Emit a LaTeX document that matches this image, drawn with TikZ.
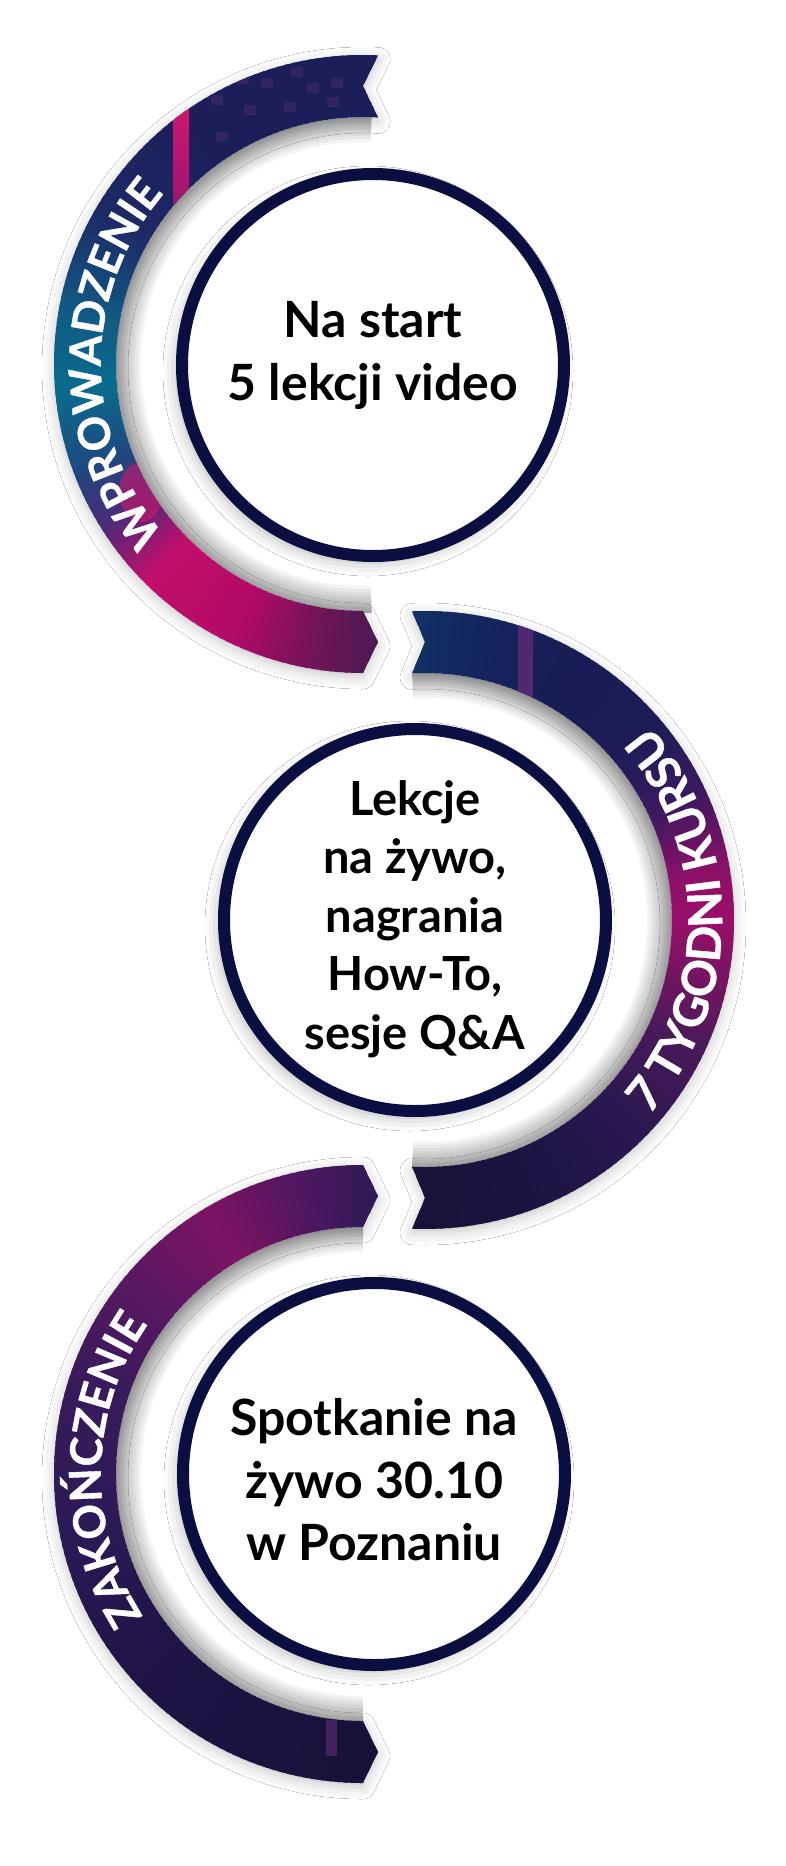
\documentclass[tikz,border=0pt]{standalone}
\usepackage{fontspec}
\setmainfont{Lato}
\newfontfamily\ribheavy{Lato}[BoldFeatures={FakeBold=0.9}]
\usetikzlibrary{decorations.text,shadows.blur}
\definecolor{circnavy}{HTML}{0A0E40}
% arc 1 colours
\definecolor{aA}{HTML}{1C1E5A}
\definecolor{aB}{HTML}{1D2A66}
\definecolor{aC}{HTML}{115A85}
\definecolor{aD}{HTML}{0A6B8D}
\definecolor{aE}{HTML}{1D4A80}
\definecolor{aF}{HTML}{4A2A78}
\definecolor{aG}{HTML}{C40E6C}
\definecolor{aH}{HTML}{B00A66}
\definecolor{aI}{HTML}{6A1658}
\definecolor{aJ}{HTML}{3A1A50}
% arc 2 colours
\definecolor{bA}{HTML}{0D3866}
\definecolor{bB}{HTML}{142660}
\definecolor{bC}{HTML}{191C55}
\definecolor{bD}{HTML}{1E1C58}
\definecolor{bE}{HTML}{3A1A5E}
\definecolor{bF}{HTML}{8A1068}
\definecolor{bG}{HTML}{9A0E68}
\definecolor{bH}{HTML}{7A1462}
\definecolor{bI}{HTML}{4A1A5A}
\definecolor{bJ}{HTML}{2A1850}
\definecolor{bK}{HTML}{1A1440}
\definecolor{bL}{HTML}{181238}
% arc 3 colours
\definecolor{cA}{HTML}{1E1A4E}
\definecolor{cB}{HTML}{4A1760}
\definecolor{cC}{HTML}{7C1462}
\definecolor{cD}{HTML}{5A1862}
\definecolor{cE}{HTML}{3A1A5A}
\definecolor{cF}{HTML}{2C1A58}
\definecolor{cG}{HTML}{221548}
\definecolor{cH}{HTML}{1A1340}
\definecolor{cI}{HTML}{161236}
\definecolor{pinkS}{HTML}{EC1A6E}
\definecolor{pinkT}{HTML}{9A1470}
\definecolor{stripeP}{HTML}{5C2A74}
\definecolor{blotch}{HTML}{4A2A6E}
\newcommand\ribfont{\ribheavy\fontsize{44}{44}\selectfont\bfseries}
\newcommand\ribfontB{\ribheavy\fontsize{47}{47}\selectfont\bfseries}
\newcommand\gradsegs[1]{%
  \foreach \sa/\sb/\ca/\cb in {#1}{%
    \pgfmathtruncatemacro\nn{max(1,int(abs(\sb-\sa)/1.5))}%
    \foreach \ii in {1,...,\nn}{%
      \pgfmathsetmacro\ta{\sa+(\sb-\sa)*(\ii-1)/\nn}%
      \pgfmathsetmacro\tc{\sa+(\sb-\sa)*(\ii+0.6)/\nn}%
      \pgfmathsetmacro\pc{100*(\ii-0.5)/\nn}%
      \fill[\cb!\pc!\ca] (0,0) -- (\ta:345) arc[start angle=\ta, end angle=\tc, radius=345] -- cycle;
    }%
  }%
}
% soft shadow on the inner side of a ribbon
\newcommand\innershadow[2]{%
  \foreach \k in {1,...,9}{%
    \fill[black, opacity=0.045] (#1:249) arc[start angle=#1,end angle=#2,radius=249] -- (#2:{249-3*\k}) arc[start angle=#2,end angle=#1,radius={249-3*\k}] -- cycle;
  }%
}
\tikzset{
  ribA/.style={insert path={(87.2:309) arc[start angle=87.2,end angle=270,radius=309] -- (15,-278) -- (0,-247) arc[start angle=270,end angle=86.5,radius=247] -- (0,278) -- cycle}},
  ribB/.style={insert path={(92.4:309) arc[start angle=92.4,end angle=-92.4,radius=309] -- (0,-278) -- (-93:247) arc[start angle=-93,end angle=93,radius=247] -- (0,278) -- cycle}},
  ribC/.style={insert path={(90:309) arc[start angle=90,end angle=270,radius=309] -- (15,-278) -- (0,-247) arc[start angle=270,end angle=90,radius=247] -- (15,278) -- cycle}},
  ribshadow/.style={blur shadow={shadow xshift=0pt, shadow yshift=-4pt, shadow blur radius=12pt, shadow opacity=22}},
  circ/.style={circle, draw=circnavy, line width=12pt, fill=white, minimum size=382pt, inner sep=0pt,
    blur shadow={shadow xshift=-5pt, shadow yshift=-6pt, shadow blur radius=14pt, shadow opacity=30}},
  txt/.style={align=center, text=black, inner sep=0pt},
  ribtext/.style={decorate, decoration={text along path, text align=center, text color=white, text={|\ribfont|#1}}},
  ribtextB/.style={decorate, decoration={text along path, text align=center, text color=white, text={|\ribfontB|#1}}}
}
\begin{document}
\begin{tikzpicture}[x=1pt,y=1pt]
\fill[white] (0,0) rectangle (786,-1866);
\useasboundingbox (0,0) rectangle (786,-1866);

% ---------- ribbon 1 ----------
\begin{scope}[shift={(363,-364)}]
  \innershadow{88}{272}
  \fill[white, ribshadow, ribA];
  \begin{scope}
    \clip[ribA];
    \gradsegs{80/125/aA/aA, 125/150/aA/aB, 150/170/aB/aC, 170/185/aC/aD, 185/200/aD/aE, 200/212/aE/aF, 212/225/aF/aG, 225/245/aG/aH, 245/262/aH/aI, 262/280/aI/aJ}
    \fill[pinkS!60!aG, opacity=0.55] (-222,-128) ellipse (22 and 30);
    \foreach \bx/\by in {-26/281, -50/276, -66/292, -113/254, -96/281, -141/227, -73/257, -146/264, -30/262, -120/285}
      \fill[blotch, opacity=0.5, rounded corners=2pt] (\bx-6,\by-5) rectangle (\bx+6,\by+5);
    \shade[top color=pinkS, bottom color=pinkT] (-190,150) rectangle (-174,320);
  \end{scope}
  \path[ribtext={WPROWADZENIE}] (228:262) arc[start angle=228,end angle=132,radius=262];
\end{scope}

% ---------- ribbon 2 ----------
\begin{scope}[shift={(425,-920)}]
  \innershadow{93}{-93}
  \fill[white, ribshadow, ribB];
  \begin{scope}
    \clip[ribB];
    \gradsegs{100/80/bA/bB, 80/60/bB/bC, 60/40/bC/bD, 40/25/bD/bE, 25/10/bE/bF, 10/0/bF/bG, 0/-10/bG/bH, -10/-25/bH/bI, -25/-45/bI/bJ, -45/-70/bJ/bK, -70/-100/bK/bL}
    \fill[stripeP, opacity=0.85] (93,200) rectangle (108,320);
  \end{scope}
  \path[ribtextB={7 TYGODNI KURSU}] (-50:297) arc[start angle=-50,end angle=50,radius=297];
\end{scope}

% ---------- ribbon 3 ----------
\begin{scope}[shift={(363,-1474)}]
  \innershadow{90}{270}
  \fill[white, ribshadow, ribC];
  \begin{scope}
    \clip[ribC];
    \gradsegs{80/100/cA/cB, 100/120/cB/cC, 120/140/cC/cD, 140/160/cD/cE, 160/190/cE/cF, 190/215/cF/cG, 215/245/cG/cH, 245/280/cH/cI}
    \fill[stripeP, opacity=0.6] (-37,-282) rectangle (-26,-246);
  \end{scope}
  \path[ribtext={ZAKOŃCZENIE}] (216:262) arc[start angle=216,end angle=142,radius=262];
\end{scope}

% ---------- circles ----------
\node[circ] (c1) at (373,-365) {};
\node[circ] (c2) at (415,-920) {};
\node[circ] (c3) at (374,-1474) {};

\node[txt, font=\fontsize{50}{63}\selectfont\bfseries] (t1) at (373,-355) {Na start\\5 lekcji video};
\node[txt, font=\fontsize{47}{58.5}\selectfont\bfseries] (t2) at (415,-919) {Lekcje\\na żywo,\\nagrania\\How-To,\\sesje Q\&A};
\node[txt, font=\fontsize{50}{62.5}\selectfont\bfseries] (t3) at (374,-1480) {Spotkanie na\\żywo 30.10\\w Poznaniu};
\end{tikzpicture}
\end{document}
